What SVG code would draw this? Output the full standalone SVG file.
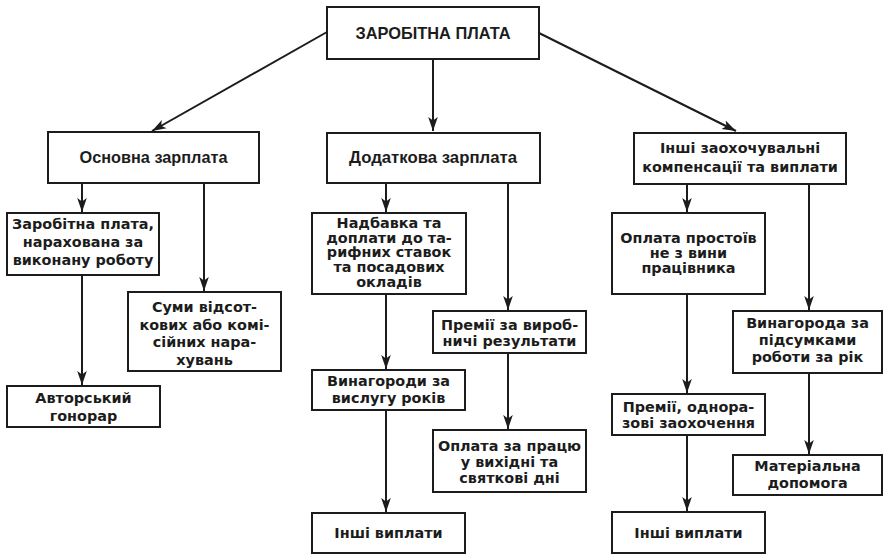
<svg xmlns="http://www.w3.org/2000/svg" width="884" height="556" viewBox="0 0 884 556">
<style>
.box{fill:#fff;stroke:#1c1c1c;stroke-width:2}
.t{font-family:"DejaVu Sans","Liberation Sans",sans-serif;font-weight:bold;font-size:14.4px;fill:#1c1c1c;text-anchor:middle}
.h{font-family:"Liberation Sans",Arial,sans-serif;font-weight:bold;font-size:17px;fill:#1c1c1c;text-anchor:middle}
.c{fill:none;stroke:#1c1c1c;stroke-width:2;marker-end:url(#ah)}
</style>
<defs>
<marker id="ah" markerUnits="userSpaceOnUse" markerWidth="15" markerHeight="12" viewBox="-14 -6 15 12" refX="0" refY="0" orient="auto">
<path d="M0,0 L-14,-4.8 L-10.5,0 L-14,4.8 Z" fill="#1c1c1c"/>
</marker>
</defs>
<g id="connectors">
<line class="c" x1="327" y1="32" x2="152" y2="131"/>
<line class="c" x1="433" y1="59" x2="433" y2="131"/>
<line class="c" x1="539" y1="33" x2="736" y2="131"/>
<line class="c" x1="82" y1="183" x2="82" y2="212"/>
<line class="c" x1="204" y1="183" x2="204" y2="291"/>
<line class="c" x1="82" y1="275" x2="82" y2="385"/>
<line class="c" x1="386" y1="183" x2="386" y2="212"/>
<line class="c" x1="508" y1="183" x2="508" y2="310"/>
<line class="c" x1="386" y1="294" x2="386" y2="369"/>
<line class="c" x1="386" y1="410" x2="386" y2="512"/>
<line class="c" x1="508" y1="353" x2="508" y2="429"/>
<line class="c" x1="687" y1="184" x2="687" y2="212"/>
<line class="c" x1="809" y1="184" x2="809" y2="310"/>
<line class="c" x1="687" y1="294" x2="687" y2="393"/>
<line class="c" x1="809" y1="373" x2="809" y2="454"/>
<line class="c" x1="687" y1="435" x2="687" y2="511"/>
</g>
<g id="n-top"><rect class="box" x="327" y="7" width="212" height="52"/><text class="h" x="433" y="38.5" font-size="15" textLength="155" lengthAdjust="spacingAndGlyphs">ЗАРОБІТНА ПЛАТА</text></g>
<g id="n-osn"><rect class="box" x="48" y="132" width="211" height="51"/><text class="h" x="153.5" y="163" textLength="148" lengthAdjust="spacingAndGlyphs">Основна зарплата</text></g>
<g id="n-dod"><rect class="box" x="327" y="133" width="213" height="50"/><text class="h" x="433" y="163" textLength="168" lengthAdjust="spacingAndGlyphs">Додаткова зарплата</text></g>
<g id="n-inshi"><rect class="box" x="634" y="133" width="212" height="51"/><text class="t" x="740" y="153">Інші заохочувальні</text><text class="t" x="740" y="171.5">компенсації та виплати</text></g>
<g id="n-zarob"><rect class="box" x="7" y="213" width="152" height="62"/><text class="t" x="83" y="229.3">Заробітна плата,</text><text class="t" x="83" y="247">нарахована за</text><text class="t" x="83" y="265">виконану роботу</text></g>
<g id="n-avtor"><rect class="box" x="7" y="386" width="153" height="41"/><text class="t" x="83.5" y="402.5">Авторський</text><text class="t" x="83.5" y="420.5">гонорар</text></g>
<g id="n-sumy"><rect class="box" x="128" y="292" width="153" height="79"/><text class="t" x="204.5" y="312">Суми відсот-</text><text class="t" x="204.5" y="329.5">кових або комі-</text><text class="t" x="204.5" y="347">сійних нара-</text><text class="t" x="204.5" y="364.5">хувань</text></g>
<g id="n-nadb"><rect class="box" x="312" y="213" width="154" height="81"/><text class="t" x="389" y="227.8">Надбавка та</text><text class="t" x="389" y="242.5">доплати до та-</text><text class="t" x="389" y="257.2">рифних ставок</text><text class="t" x="389" y="271.9">та посадових</text><text class="t" x="389" y="286.6">окладів</text></g>
<g id="n-vynag"><rect class="box" x="312" y="370" width="153" height="40"/><text class="t" x="388.5" y="386">Винагороди за</text><text class="t" x="388.5" y="402.5">вислугу років</text></g>
<g id="n-inshi-mid"><rect class="box" x="312" y="513" width="153" height="40"/><text class="t" x="388.5" y="538">Інші виплати</text></g>
<g id="n-premii"><rect class="box" x="433" y="311" width="153" height="42"/><text class="t" x="509.5" y="330">Премії за вироб-</text><text class="t" x="509.5" y="345.5">ничі результати</text></g>
<g id="n-oplata"><rect class="box" x="433" y="430" width="153" height="62"/><text class="t" x="509.5" y="451.3">Оплата за працю</text><text class="t" x="509.5" y="467">у вихідні та</text><text class="t" x="509.5" y="482.7">святкові дні</text></g>
<g id="n-prostoi"><rect class="box" x="612" y="213" width="153" height="81"/><text class="t" x="688.5" y="242.7">Оплата простоїв</text><text class="t" x="688.5" y="257.7">не з вини</text><text class="t" x="688.5" y="272.7">працівника</text></g>
<g id="n-rik"><rect class="box" x="733" y="311" width="149" height="62"/><text class="t" x="807.5" y="328.3">Винагорода за</text><text class="t" x="807.5" y="345">підсумками</text><text class="t" x="807.5" y="361.7">роботи за рік</text></g>
<g id="n-odnor"><rect class="box" x="612" y="394" width="153" height="41"/><text class="t" x="688.5" y="411.7">Премії, однора-</text><text class="t" x="688.5" y="428.3">зові заохочення</text></g>
<g id="n-mater"><rect class="box" x="733" y="455" width="149" height="40"/><text class="t" x="807.5" y="471">Матеріальна</text><text class="t" x="807.5" y="488">допомога</text></g>
<g id="n-inshi-right"><rect class="box" x="612" y="512" width="153" height="41"/><text class="t" x="688.5" y="537.5">Інші виплати</text></g>
</svg>
